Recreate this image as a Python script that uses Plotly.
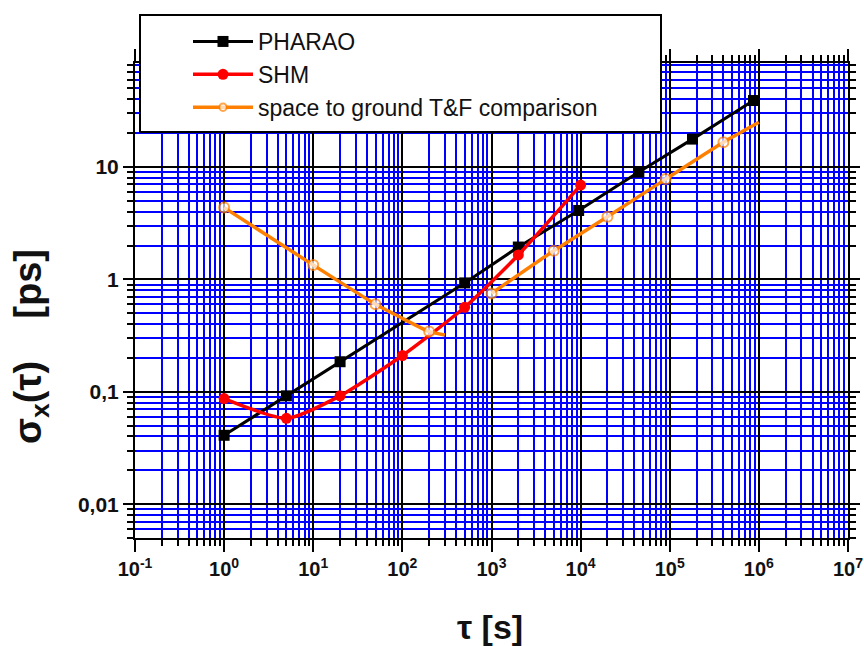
import math
import plotly.graph_objects as go

# ---------------- data ----------------
pharao_tau = [1, 5, 20, 500, 2000, 9500, 45000, 180000, 870000]
pharao_sigma = [0.041, 0.092, 0.185, 0.93, 1.94, 4.1, 9.0, 17.7, 39.0]

shm_tau = [1, 5, 20, 100, 500, 2000, 10000]
shm_sigma = [0.087, 0.058, 0.092, 0.21, 0.565, 1.65, 6.9]

gf_tau = [1, 10, 50, 200, 300, None, 1000, 5000, 20000, 90000, 400000, 1000000]
gf_sigma = [4.35, 1.34, 0.60, 0.343, 0.32, None, 0.75, 1.80, 3.61, 7.8, 16.6, 25.0]
gf_marked = [True, True, True, True, False, False, True, True, True, True, True, False]

x_tickvals = [0.1, 1, 10, 100, 1e3, 1e4, 1e5, 1e6, 1e7]
x_ticktext = ["10<sup>-1</sup>", "10<sup>0</sup>", "10<sup>1</sup>", "10<sup>2</sup>",
              "10<sup>3</sup>", "10<sup>4</sup>", "10<sup>5</sup>", "10<sup>6</sup>",
              "10<sup>7</sup>"]
y_tickvals = [0.01, 0.1, 1, 10]
y_ticktext = ["0,01", "0,1", "1", "10"]

series_names = ["PHARAO", "SHM", "space to ground T&F comparison"]
x_title = "τ [s]"
y_title = "σ<sub>x</sub>(τ)\u00a0\u00a0\u00a0\u00a0[ps]"

# ---------------- figure ----------------
FONT = "Liberation Sans, Arial, sans-serif"
fig = go.Figure()

fig.add_trace(go.Scatter(
    x=pharao_tau, y=pharao_sigma, name=series_names[0], mode="lines+markers",
    line=dict(color="black", width=3),
    marker=dict(symbol="square", size=11, color="black"),
))
fig.add_trace(go.Scatter(
    x=shm_tau, y=shm_sigma, name=series_names[1], mode="lines+markers",
    line=dict(color="#ff0000", width=3.5, shape="spline", smoothing=0.6),
    marker=dict(symbol="circle", size=11, color="#ff0000"),
))
fig.add_trace(go.Scatter(
    x=gf_tau, y=gf_sigma, name=series_names[2], mode="lines+markers",
    connectgaps=False,
    line=dict(color="#ff8000", width=3.5, shape="spline", smoothing=0.4),
    marker=dict(symbol="circle", size=[10 if m else 0 for m in gf_marked],
                color="white", line=dict(color="#ff8000", width=2)),
))

L, R, T, B = 135, 16, 63, 108
W, H = 864, 646
pw, ph = W - L - R, H - T - B


def px_x(p):
    return (p - L) / pw


def px_y(p):
    return (H - B - p) / ph


axis_common = dict(
    type="log",
    showline=True, linecolor="black", linewidth=2, mirror="ticks",
    ticks="outside", tickcolor="black", tickwidth=2,
    showgrid=True, gridcolor="black", gridwidth=2,
    zeroline=False,
)

fig.update_xaxes(
    **axis_common,
    range=[-1, 7],
    tickmode="array", tickvals=x_tickvals, ticktext=x_ticktext, ticklen=12,
    tickfont=dict(family=FONT, size=20, color="#111111", weight="bold"),
    minor=dict(dtick="D1", ticks="outside", ticklen=6, tickwidth=2, tickcolor="black",
               showgrid=True, gridcolor="#0000ff", gridwidth=2),
)
fig.update_yaxes(
    **axis_common,
    range=[math.log10(0.005), 1.925],
    tickmode="array", tickvals=y_tickvals, ticktext=y_ticktext, ticklen=10,
    tickfont=dict(family=FONT, size=21, color="#111111", weight="bold"),
    minor=dict(dtick="D1", ticks="outside", ticklen=6, tickwidth=2, tickcolor="black",
               showgrid=True, gridcolor="#0000ff", gridwidth=2),
)

# axis titles
fig.add_annotation(text=x_title, xref="paper", yref="paper",
                   x=px_x(490), y=px_y(627), xanchor="center", yanchor="middle",
                   showarrow=False,
                   font=dict(family=FONT, size=34, color="#111111", weight="bold"))
fig.add_annotation(text=y_title, xref="paper", yref="paper",
                   x=px_x(31), y=px_y(347), xanchor="center", yanchor="middle",
                   textangle=-90, showarrow=False,
                   font=dict(family=FONT, size=38, color="#111111", weight="bold"))

# legend frame
fig.add_shape(type="rect", xref="paper", yref="paper",
              x0=px_x(140), x1=px_x(661), y0=px_y(132), y1=px_y(15),
              fillcolor="white", line=dict(color="black", width=2), layer="above")

fig.update_layout(
    width=W, height=H,
    margin=dict(l=L, r=R, t=T, b=B, autoexpand=False),
    paper_bgcolor="white", plot_bgcolor="white",
    showlegend=True,
    legend=dict(x=px_x(188), y=px_y(20), xanchor="left", yanchor="top",
                bgcolor="rgba(0,0,0,0)", borderwidth=0,
                font=dict(family=FONT, size=23, color="#111111"),
                itemwidth=60, tracegroupgap=0),
)

fig.write_html("out.html", config={"displayModeBar": False},
               post_script="document.body.style.margin='0px';")
